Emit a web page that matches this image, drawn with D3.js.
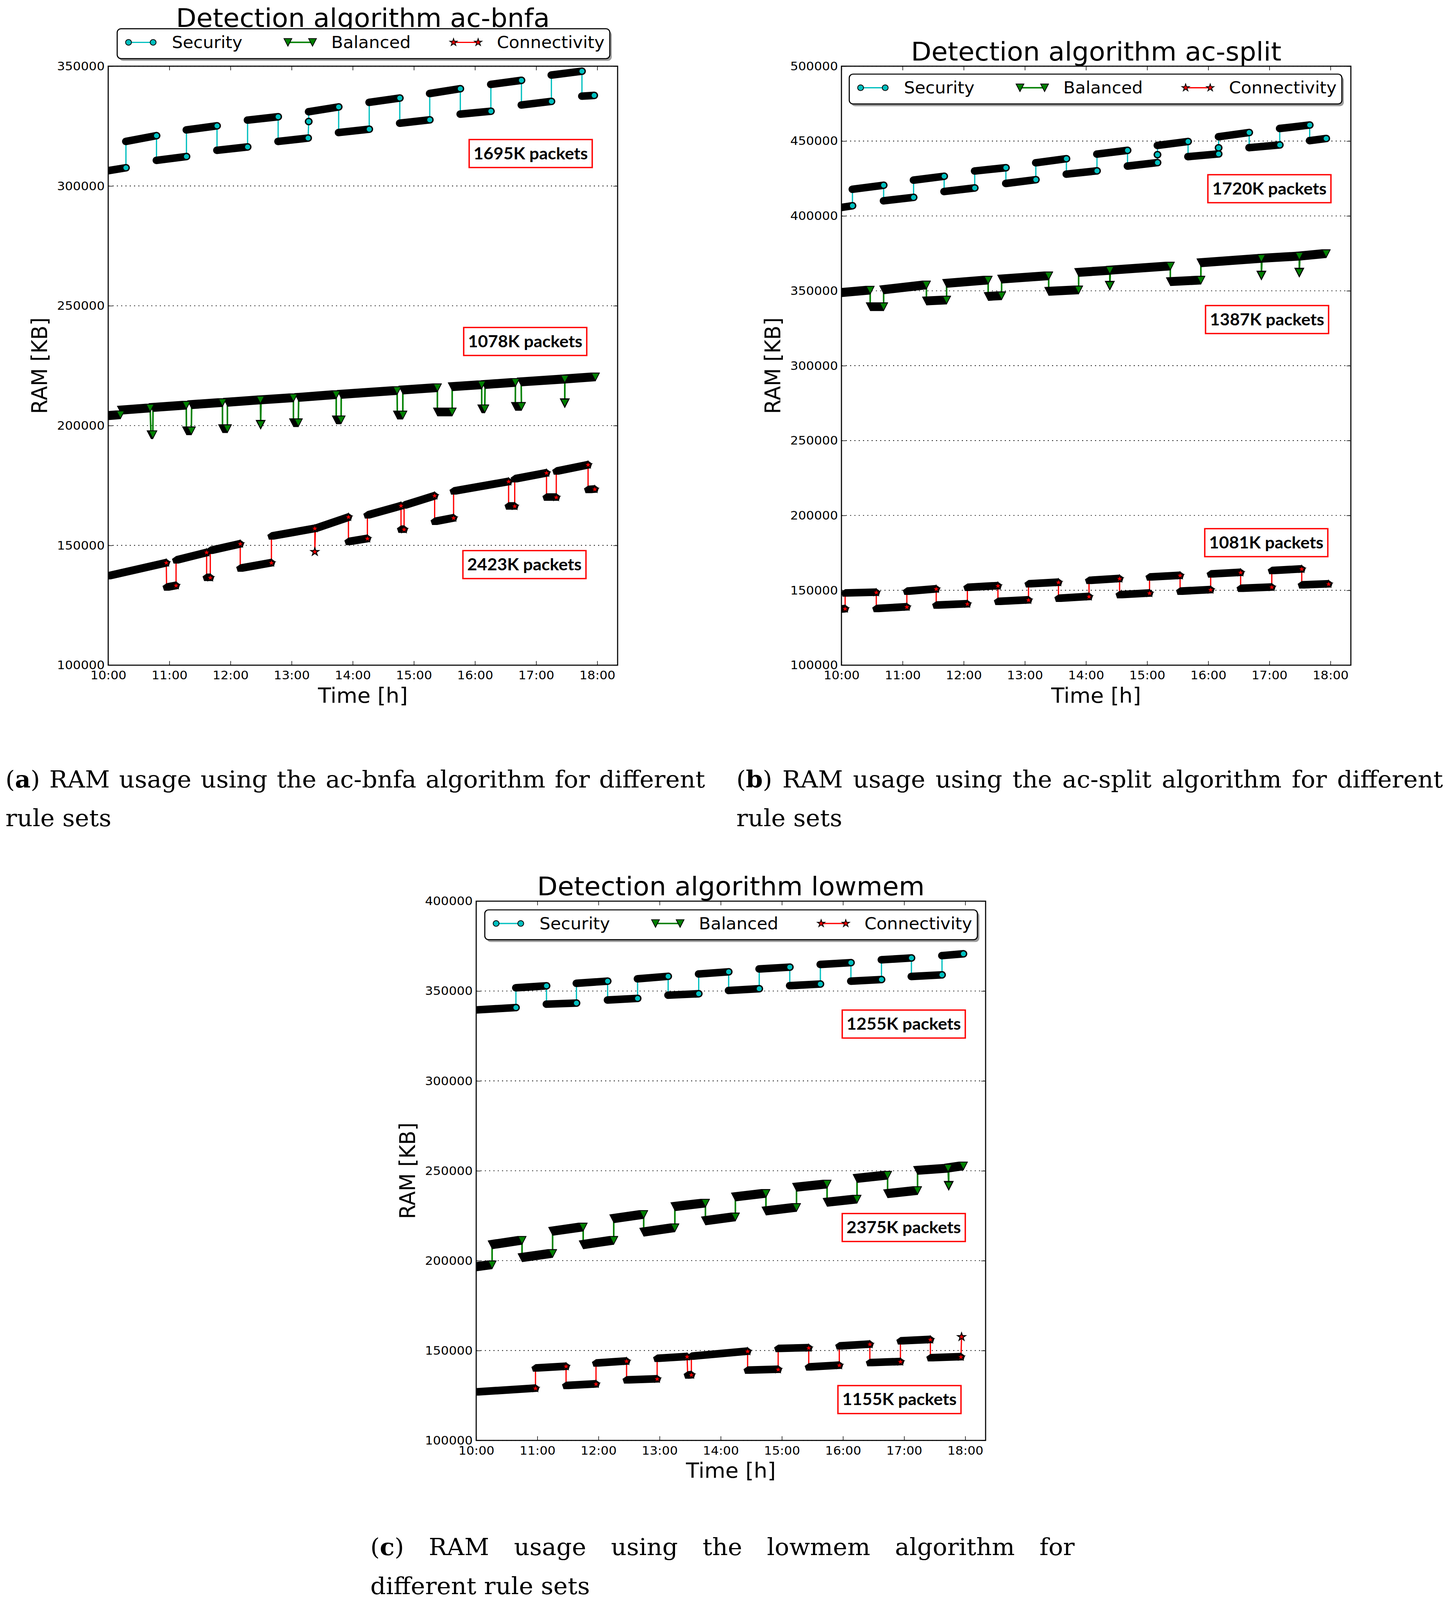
<!DOCTYPE html>
<html>
<head>
<meta charset="utf-8">
<script src="https://cdn.jsdelivr.net/npm/d3@7"></script>
<style>
  html, body { margin: 0; padding: 0; background: #fff; overflow: hidden; }
  svg { display: block; width: 100vw; height: 100vh; }
</style>
</head>
<body>
<div id="chart"></div>
<script>
// each run is [startHour, startKB, endHour, endKB]; a jump between runs is drawn by the thin coloured line
var acbnfaSecurity = [
  [10.00, 306400, 10.29, 307600], [10.29, 318600, 10.79, 321000], [10.79, 310700, 11.28, 312300],
  [11.28, 323400, 11.78, 325100], [11.78, 314900, 12.28, 316300], [12.28, 327500, 12.78, 328900],
  [12.78, 318600, 13.27, 320000], [13.28, 326900, 13.28, 326900], [13.28, 331000, 13.77, 333000],
  [13.77, 322300, 14.27, 323700], [14.27, 334900, 14.77, 336700], [14.77, 326200, 15.26, 327600],
  [15.26, 338600, 15.76, 340600], [15.76, 330000, 16.26, 331200], [16.26, 342400, 16.76, 344100],
  [16.76, 333800, 17.25, 335300], [17.25, 346300, 17.75, 347900], [17.75, 337500, 17.95, 337800]
];
var acbnfaBalanced = [
  [10.00, 204100, 10.20, 204500], [10.215, 206400, 10.686, 207300], [10.70, 196200, 10.73, 196200],
  [10.733, 207500, 11.277, 208500], [11.28, 197800, 11.36, 197800], [11.365, 208700, 11.869, 209600],
  [11.87, 198700, 11.95, 198700], [11.95, 209700, 12.49, 210700], [12.494, 200400, 12.494, 200400],
  [12.50, 210700, 13.03, 211600], [13.03, 201200, 13.11, 201200], [13.116, 211700, 13.73, 212900],
  [13.73, 202400, 13.81, 202400], [13.812, 213000, 14.726, 214600], [14.73, 204400, 14.82, 204400],
  [14.82, 214800, 15.385, 215800], [15.385, 205700, 15.627, 205700], [15.627, 216200, 16.11, 217000],
  [16.11, 207000, 16.16, 207000], [16.165, 217100, 16.662, 218000], [16.66, 208000, 16.76, 208000],
  [16.756, 218200, 17.469, 219400], [17.469, 209400, 17.469, 209400], [17.47, 219400, 17.97, 220300]
];
var acbnfaConnectivity = [
  [10.00, 137200, 10.95, 142700], [10.955, 132500, 11.11, 133200], [11.11, 143800, 11.61, 147000],
  [11.61, 136500, 11.67, 136500], [11.67, 147800, 12.16, 150600], [12.16, 140400, 12.67, 142700],
  [12.67, 153800, 13.38, 157000], [13.38, 147300, 13.38, 147300], [13.39, 157100, 13.93, 161800],
  [13.93, 151500, 14.24, 152800], [14.24, 162600, 14.79, 166500], [14.79, 156600, 14.84, 156600],
  [14.84, 166700, 15.34, 170700], [15.34, 159900, 15.65, 161400], [15.65, 172600, 16.55, 176600],
  [16.55, 166300, 16.65, 166300], [16.65, 177700, 17.17, 180200], [17.17, 170000, 17.33, 170000],
  [17.33, 180900, 17.85, 183600], [17.85, 173200, 17.96, 173400]
];

var acsplitSecurity = [
  [10.00, 405700, 10.18, 406800], [10.18, 417800, 10.69, 420500], [10.69, 410100, 11.18, 412400],
  [11.18, 423900, 11.68, 426500], [11.68, 416300, 12.18, 418700], [12.18, 430000, 12.69, 432200],
  [12.69, 421700, 13.18, 424200], [13.18, 435500, 13.68, 438200], [13.68, 427900, 14.18, 430100],
  [14.18, 441300, 14.68, 443800], [14.68, 433300, 15.17, 435600], [15.17, 440900, 15.17, 440900],
  [15.17, 447100, 15.67, 449700], [15.67, 439600, 16.17, 441400], [16.17, 445500, 16.17, 445500],
  [16.17, 452900, 16.67, 455700], [16.67, 445600, 17.17, 447400], [17.17, 458400, 17.66, 460700],
  [17.66, 450300, 17.93, 451700]
];
var acsplitBalanced = [
  [10.00, 348700, 10.47, 350400], [10.47, 339400, 10.69, 339400], [10.69, 350600, 11.39, 353900],
  [11.39, 343200, 11.72, 343800], [11.72, 354900, 12.40, 357100], [12.40, 346200, 12.62, 346700],
  [12.62, 357800, 13.39, 360000], [13.39, 349600, 13.88, 350600], [13.88, 362200, 14.39, 363600],
  [14.39, 353500, 14.39, 353500], [14.40, 363700, 15.38, 366500], [15.38, 356100, 15.88, 357100],
  [15.88, 368700, 16.87, 371600], [16.87, 360300, 16.87, 360300], [16.88, 371700, 17.49, 373100],
  [17.49, 362200, 17.49, 362200], [17.50, 373100, 17.93, 374800]
];
var acsplitConnectivity = [
  [10.00, 137300, 10.06, 137600], [10.06, 148000, 10.57, 148500], [10.57, 137600, 11.07, 138800],
  [11.07, 149200, 11.55, 150800], [11.55, 139900, 12.06, 140800], [12.06, 151800, 12.56, 152900],
  [12.56, 142400, 13.06, 143400], [13.06, 154100, 13.55, 155200], [13.55, 144500, 14.05, 145700],
  [14.05, 156400, 14.55, 157700], [14.55, 146900, 15.04, 148000], [15.04, 158700, 15.54, 159800],
  [15.54, 149200, 16.04, 150300], [16.04, 160700, 16.53, 161800], [16.53, 151100, 17.04, 152000],
  [17.04, 163000, 17.53, 164100], [17.53, 153400, 17.97, 154100]
];

var lowmemSecurity = [
  [10.00, 339500, 10.65, 340800], [10.65, 351800, 11.15, 352900], [11.15, 342700, 11.64, 343300],
  [11.64, 354300, 12.15, 355500], [12.15, 345000, 12.64, 345900], [12.64, 356800, 13.14, 358200],
  [13.14, 347700, 13.64, 348500], [13.64, 359500, 14.13, 360700], [14.13, 350300, 14.63, 351300],
  [14.63, 362300, 15.13, 363300], [15.13, 353000, 15.63, 353900], [15.63, 364800, 16.13, 365800],
  [16.13, 355500, 16.63, 356400], [16.63, 367400, 17.12, 368400], [17.12, 358100, 17.62, 359000],
  [17.62, 369700, 17.97, 370700]
];
var lowmemBalanced = [
  [10.00, 196500, 10.26, 197700], [10.26, 208800, 10.75, 211300], [10.75, 201600, 11.25, 204000],
  [11.25, 216300, 11.75, 218700], [11.75, 208800, 12.25, 211300], [12.25, 223300, 12.74, 225700],
  [12.74, 215800, 13.25, 218300], [13.25, 230000, 13.75, 232000], [13.75, 222100, 14.24, 224300],
  [14.24, 235400, 14.74, 237400], [14.74, 227600, 15.24, 229600], [15.24, 240800, 15.74, 242600],
  [15.74, 232400, 16.23, 234200], [16.23, 245700, 16.73, 247500], [16.73, 237200, 17.22, 239000],
  [17.22, 250200, 17.72, 251400], [17.73, 241700, 17.73, 241700], [17.73, 251500, 17.97, 252700]
];
var lowmemConnectivity = [
  [10.00, 126800, 10.97, 128900], [10.97, 140100, 11.47, 141100], [11.47, 130400, 11.96, 131300],
  [11.96, 142900, 12.46, 144000], [12.46, 133500, 12.96, 134100], [12.96, 145500, 13.45, 146500],
  [13.46, 136200, 13.52, 136400], [13.52, 146700, 14.44, 149500], [14.44, 138900, 14.94, 139400],
  [14.94, 151000, 15.44, 151400], [15.44, 140700, 15.94, 141700], [15.94, 152400, 16.44, 153400],
  [16.44, 143100, 16.94, 143700], [16.94, 155200, 17.43, 156000], [17.43, 145800, 17.93, 146400],
  [17.94, 157600, 17.94, 157600]
];

var seriesNames = ["Security", "Balanced", "Connectivity"];
var hourTicks = [10, 11, 12, 13, 14, 15, 16, 17, 18];
var hourLabels = ["10:00", "11:00", "12:00", "13:00", "14:00", "15:00", "16:00", "17:00", "18:00"];
var yTicksBnfa = [100000, 150000, 200000, 250000, 300000, 350000];
var yTicksSplit = [100000, 150000, 200000, 250000, 300000, 350000, 400000, 450000, 500000];
var yTicksLowmem = [100000, 150000, 200000, 250000, 300000, 350000, 400000];
var titles = ["Detection algorithm ac-bnfa", "Detection algorithm ac-split", "Detection algorithm lowmem"];
var packetsBnfa = ["1695K packets", "1078K packets", "2423K packets"];
var packetsSplit = ["1720K packets", "1387K packets", "1081K packets"];
var packetsLowmem = ["1255K packets", "2375K packets", "1155K packets"];
var captionA = ["(a) RAM usage using the ac-bnfa algorithm for different", "rule sets"];
var captionB = ["(b) RAM usage using the ac-split algorithm for different", "rule sets"];
var captionC = ["(c) RAM usage using the lowmem algorithm for", "different rule sets"];

// styles
var colors = ["#00bfbf", "#008000", "#ff0000"];
var shapes = ["circle", "tri", "star"];
var lineWidths = [3.2, 4, 3.2];
var bandPad = [10, 11.5, 11];
var markSize = [7.5, 10, 10];
var xMax = 18 + 1 / 3;

var panels = [
  {id: "a", left: 277, top: 175, width: 1304, height: 1584, yMax: 350000, yTicks: yTicksBnfa,
   series: [acbnfaSecurity, acbnfaBalanced, acbnfaConnectivity], title: titles[0], titleY: 71,
   legend: [23, -99], labels: packetsBnfa, boxes: [[924, 194], [910, 691], [908, 1281]]},
  {id: "b", left: 2154, top: 175, width: 1304, height: 1584, yMax: 500000, yTicks: yTicksSplit,
   series: [acsplitSecurity, acsplitBalanced, acsplitConnectivity], title: titles[1], titleY: 160,
   legend: [20, 21], labels: packetsSplit, boxes: [[938, 287], [932, 633], [930, 1223]]},
  {id: "c", left: 1219, top: 2383, width: 1304, height: 1426, yMax: 400000, yTicks: yTicksLowmem,
   series: [lowmemSecurity, lowmemBalanced, lowmemConnectivity], title: titles[2], titleY: 2368,
   legend: [22, 23], labels: packetsLowmem, boxes: [[937, 288], [937, 826], [926, 1281]]}
];

// drawn in a 3699x4231 frame, stretched to whatever the viewport really is
var svg = d3.select("#chart").append("svg")
  .attr("viewBox", "0 0 3699 4231")
  .attr("preserveAspectRatio", "none");
svg.append("rect").attr("width", 3699).attr("height", 4231).attr("fill", "#fff");

function shapePoints(kind, s) {
  if (kind == "circle") {
    return d3.range(36).map(function(i) {
      var a = i * Math.PI / 18;
      return [s * Math.cos(a), s * Math.sin(a)];
    });
  }
  if (kind == "tri") return [[0, s], [-s, -s], [s, -s]];
  return d3.range(10).map(function(i) {
    var r = i % 2 ? s * 0.382 : s;
    var a = -Math.PI / 2 + i * Math.PI / 5;
    return [r * Math.cos(a), r * Math.sin(a)];
  });
}

function pathOf(pts) {
  return "M" + pts.map(function(p) { return p[0].toFixed(2) + "," + p[1].toFixed(2); }).join("L") + "Z";
}

function marker(g, i, cx, cy, s, fill) {
  g.append("path")
    .attr("d", pathOf(shapePoints(shapes[i], s)))
    .attr("transform", "translate(" + cx + "," + cy + ")")
    .attr("fill", fill)
    .attr("stroke", "#000")
    .attr("stroke-width", 2)
    .attr("stroke-linejoin", "miter");
}

function drawSeries(g, runs, x, y, i) {
  var pts = [];
  runs.forEach(function(r) { pts.push([r[0], r[1]]); pts.push([r[2], r[3]]); });

  // thin connecting line underneath
  g.append("path")
    .attr("d", d3.line().x(function(d) { return x(d[0]); }).y(function(d) { return y(d[1]); })(pts))
    .attr("fill", "none")
    .attr("stroke", colors[i])
    .attr("stroke-width", lineWidths[i]);

  // dense markers merge into a black band: hull of first and last marker of each run
  var base = shapePoints(shapes[i], bandPad[i]);
  runs.forEach(function(r) {
    var x0 = x(r[0]), y0 = y(r[1]), x1 = x(r[2]), y1 = y(r[3]);
    if (r[0] == r[2] && r[1] == r[3]) {
      marker(g, i, x1, y1, markSize[i] + 1.5, "#000");
      return;
    }
    var cloud = base.map(function(p) { return [p[0] + x0, p[1] + y0]; })
      .concat(base.map(function(p) { return [p[0] + x1, p[1] + y1]; }));
    g.append("path").attr("d", pathOf(d3.polygonHull(cloud))).attr("fill", "#000");
  });

  // the last marker of every run keeps its colour
  runs.forEach(function(r) {
    marker(g, i, x(r[2]), y(r[3]), markSize[i], colors[i]);
  });
}

function drawLegend(lx, ly) {
  var g = svg.append("g");
  g.append("rect").attr("x", lx + 5).attr("y", ly + 6).attr("width", 1261).attr("height", 79)
    .attr("rx", 10).attr("fill", "#9c9c9c");
  g.append("rect").attr("x", lx).attr("y", ly).attr("width", 1261).attr("height", 79)
    .attr("rx", 10).attr("fill", "#fff").attr("stroke", "#000").attr("stroke-width", 2.8);
  var offs = [29, 437, 861];
  seriesNames.forEach(function(name, i) {
    var m1 = lx + offs[i], m2 = m1 + 63, my = ly + 36;
    g.append("line").attr("x1", m1).attr("x2", m2).attr("y1", my).attr("y2", my)
      .attr("stroke", colors[i]).attr("stroke-width", lineWidths[i]);
    marker(g, i, m1, my, markSize[i], colors[i]);
    marker(g, i, m2, my, markSize[i], colors[i]);
    g.append("text").attr("x", m1 + 111).attr("y", ly + 51)
      .attr("font-family", "DejaVu Sans").attr("font-size", 44).text(name);
  });
}

function drawPanel(p) {
  var x = d3.scaleLinear().domain([10, xMax]).range([p.left, p.left + p.width]);
  var y = d3.scaleLinear().domain([100000, p.yMax]).range([p.top + p.height, p.top]);
  var g = svg.append("g");

  svg.append("clipPath").attr("id", "clip-" + p.id).append("rect")
    .attr("x", p.left).attr("y", p.top).attr("width", p.width).attr("height", p.height);

  // dotted horizontal grid
  g.selectAll("line.grid").data(p.yTicks).join("line")
    .attr("class", "grid")
    .attr("x1", p.left).attr("x2", p.left + p.width)
    .attr("y1", function(d) { return y(d); }).attr("y2", function(d) { return y(d); })
    .attr("stroke", "#000").attr("stroke-width", 1.7).attr("stroke-dasharray", "3,8");

  var plotArea = g.append("g").attr("clip-path", "url(#clip-" + p.id + ")");
  p.series.forEach(function(runs, i) { drawSeries(plotArea, runs, x, y, i); });

  // axes: ticks inside on all four sides
  var ax = g.append("g").attr("transform", "translate(0," + (p.top + p.height) + ")")
    .call(d3.axisBottom(x).tickValues(hourTicks).tickFormat(function(d, i) { return hourLabels[i]; })
      .tickSizeInner(-11).tickSizeOuter(0).tickPadding(15));
  ax.append("text").attr("x", p.left + p.width / 2).attr("y", 99)
    .attr("fill", "#000").attr("text-anchor", "middle").attr("font-size", 55).text("Time [h]");
  g.append("g").attr("transform", "translate(0," + p.top + ")")
    .call(d3.axisTop(x).tickValues(hourTicks).tickFormat("").tickSizeInner(-11).tickSizeOuter(0));
  var ay = g.append("g").attr("transform", "translate(" + p.left + ",0)")
    .call(d3.axisLeft(y).tickValues(p.yTicks).tickFormat(d3.format("d"))
      .tickSizeInner(-11).tickSizeOuter(0).tickPadding(9));
  ay.append("text").attr("transform", "translate(-157," + (p.top + p.height / 2) + ") rotate(-90)")
    .attr("fill", "#000").attr("text-anchor", "middle").attr("font-size", 55).text("RAM [KB]");
  g.append("g").attr("transform", "translate(" + (p.left + p.width) + ",0)")
    .call(d3.axisRight(y).tickValues(p.yTicks).tickFormat("").tickSizeInner(-11).tickSizeOuter(0));

  g.selectAll(".domain").remove();
  g.selectAll(".tick line").attr("stroke", "#000").attr("stroke-width", 1.5);
  g.selectAll("g").attr("font-family", "DejaVu Sans");
  g.selectAll(".tick text").attr("font-size", 32).attr("fill", "#000");

  g.append("rect").attr("x", p.left).attr("y", p.top).attr("width", p.width).attr("height", p.height)
    .attr("fill", "none").attr("stroke", "#000").attr("stroke-width", 2.8);

  svg.append("text").attr("x", p.left + p.width / 2).attr("y", p.titleY)
    .attr("text-anchor", "middle").attr("font-family", "DejaVu Sans").attr("font-size", 68)
    .text(p.title);

  drawLegend(p.left + p.legend[0], p.top + p.legend[1]);

  // red-framed packet counts
  p.boxes.forEach(function(b, k) {
    var bx = p.left + b[0], by = p.top + b[1];
    svg.append("rect").attr("x", bx).attr("y", by).attr("width", 315).attr("height", 74)
      .attr("fill", "#fff").attr("stroke", "#ff0000").attr("stroke-width", 3.5);
    svg.append("text").attr("x", bx + 157.5).attr("y", by + 52)
      .attr("text-anchor", "middle").attr("font-family", "Lato").attr("font-weight", "bold")
      .attr("font-size", 44).text(p.labels[k]);
  });
}

panels.forEach(drawPanel);

// captions, first line justified to the column width
function captionWord(t, x, y, word) {
  var el = t.append("text").attr("x", x).attr("y", y);
  var m = word.match(/^\((\w)\)$/);
  if (m) {
    el.append("tspan").text("(");
    el.append("tspan").attr("font-weight", "bold").text(m[1]);
    el.append("tspan").text(")");
  } else {
    el.text(word);
  }
  return el;
}

function caption(lines, x0, width, y0) {
  var t = svg.append("g").attr("font-family", "DejaVu Serif").attr("font-size", 62).attr("fill", "#000");
  var words = lines[0].split(" ");
  var els = words.map(function(w) { return captionWord(t, 0, y0, w); });
  var lens = els.map(function(e) { return e.node().getComputedTextLength(); });
  var gap = (width - d3.sum(lens)) / (words.length - 1);
  var cx = x0;
  els.forEach(function(e, i) { e.attr("x", cx); cx += lens[i] + gap; });
  t.append("text").attr("x", x0).attr("y", y0 + 103).text(lines[1]);
}

caption(captionA, 14, 1791, 2082);
caption(captionB, 1885, 1809, 2082);
caption(captionC, 948, 1803, 4112);
</script>
</body>
</html>
